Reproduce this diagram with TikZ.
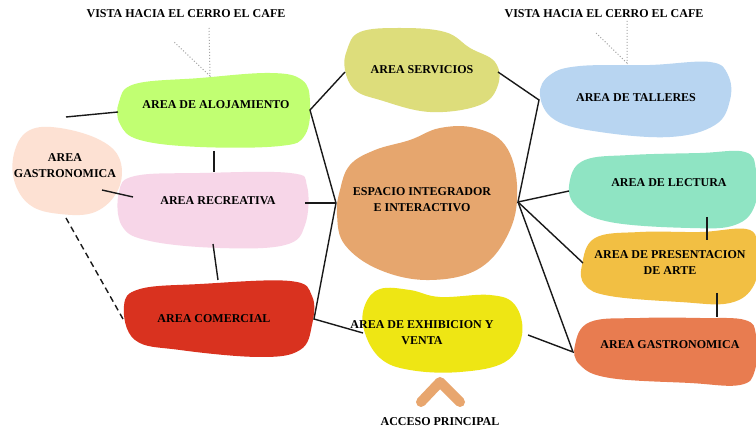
\documentclass[tikz,border=0pt]{standalone}
\usepackage{fontspec}
\setmainfont{Liberation Serif}
\begin{document}
\begin{tikzpicture}[x=1pt,y=-1pt,
  lbl/.style={font=\fontsize{12}{16}\selectfont\bfseries, align=center, inner sep=0pt, text=black},
  conn/.style={draw=black!90, line width=1.4pt},
  viewline/.style={draw=black!35, line width=1pt, dash pattern=on 1pt off 2pt}]
\definecolor{cAloj}{HTML}{C1FF72}
\definecolor{cGastL}{HTML}{FDE1D3}
\definecolor{cRecr}{HTML}{F7D6E8}
\definecolor{cCom}{HTML}{D9321F}
\definecolor{cServ}{HTML}{DDDD7B}
\definecolor{cEsp}{HTML}{E6A66E}
\definecolor{cExh}{HTML}{EEE614}
\definecolor{cTall}{HTML}{B8D5F1}
\definecolor{cLect}{HTML}{8FE4C3}
\definecolor{cPres}{HTML}{F2BF43}
\definecolor{cGastR}{HTML}{E87C50}
\definecolor{cArrow}{HTML}{E8A66E}
\useasboundingbox[fill=white] (0,0) rectangle (756,430);

% blobs
\fill[cAloj] plot[smooth cycle, tension=0.65] coordinates {(119,102) (135,84) (200,78) (270,73) (302,80) (310,102) (305,135) (280,146) (200,147) (140,140) (120,124)};
\fill[cGastL] plot[smooth cycle, tension=0.65] coordinates {(15,150) (30,130) (60,128) (100,140) (120,160) (118,190) (95,212) (60,214) (30,205) (14,180)};
\fill[cRecr] plot[smooth cycle, tension=0.65] coordinates {(119,192) (135,176) (200,173) (290,173) (307,186) (305,225) (285,245) (220,248) (150,241) (122,226)};
\fill[cCom] plot[smooth cycle, tension=0.65] coordinates {(124,306) (140,289) (200,284) (290,281) (312,296) (312,325) (300,350) (260,357) (180,350) (135,340)};
\fill[cServ] plot[smooth cycle, tension=0.65] coordinates {(347,50) (360,32) (400,28) (445,32) (470,48) (495,62) (498,85) (480,105) (430,112) (380,100) (355,90) (345,70)};
\fill[cEsp] plot[smooth cycle, tension=0.65] coordinates {(340,190) (350,165) (375,150) (410,140) (440,128) (475,128) (505,145) (517,185) (510,230) (480,268) (430,280) (380,270) (345,245) (337,215)};
\fill[cExh] plot[smooth cycle, tension=0.65] coordinates {(365,305) (380,289) (410,290) (440,297) (490,295) (515,305) (522,335) (505,362) (460,372) (410,370) (380,358) (364,330)};
\fill[cTall] plot[smooth cycle, tension=0.65] coordinates {(540,95) (550,75) (580,66) (650,65) (710,62) (728,75) (730,100) (715,125) (670,137) (600,132) (555,120)};
\fill[cLect] plot[smooth cycle, tension=0.65] coordinates {(570,180) (585,160) (630,155) (700,153) (745,152) (756,170) (755,205) (735,225) (690,228) (610,222) (575,205)};
\fill[cPres] plot[smooth cycle, tension=0.65] coordinates {(582,265) (595,238) (640,232) (700,232) (750,230) (756,255) (754,285) (730,303) (680,302) (610,296) (585,285)};
\fill[cGastR] plot[smooth cycle, tension=0.65] coordinates {(575,345) (590,322) (640,318) (700,318) (745,320) (756,335) (755,370) (740,385) (690,383) (610,378) (580,365)};

% labels
\node[lbl] (aloj) at (216,105) {AREA DE ALOJAMIENTO};
\node[lbl] (gastL) at (65,166) {AREA\\GASTRONOMICA};
\node[lbl] (recr) at (218,201) {AREA RECREATIVA};
\node[lbl] (com) at (214,319) {AREA COMERCIAL};
\node[lbl] (serv) at (422,70) {AREA SERVICIOS};
\node[lbl] (esp) at (422,200) {ESPACIO INTEGRADOR\\E INTERACTIVO};
\node[lbl] (exh) at (422,333) {AREA DE EXHIBICION Y\\VENTA};
\node[lbl] (tall) at (636,98) {AREA DE TALLERES};
\node[lbl] (lect) at (669,183) {AREA DE LECTURA};
\node[lbl] (pres) at (670,263) {AREA DE PRESENTACION\\DE ARTE};
\node[lbl] (gastR) at (670,345) {AREA GASTRONOMICA};
\node[lbl] (vistaL) at (186,14) {VISTA HACIA EL CERRO EL CAFE};
\node[lbl] (vistaR) at (604,14) {VISTA HACIA EL CERRO EL CAFE};
\node[lbl] (acceso) at (440,422) {ACCESO PRINCIPAL};

% anchor coordinates
\coordinate (alojW) at (118,112);
\coordinate (freeL) at (66,117);
\coordinate (alojS) at (214,151);
\coordinate (recrN) at (214,172);
\coordinate (gastLE) at (102,190);
\coordinate (recrW) at (133,197);
\coordinate (gastLS) at (66,218);
\coordinate (comW) at (123,319);
\coordinate (recrS) at (213,244);
\coordinate (comN) at (218,280);
\coordinate (alojE) at (310,110);
\coordinate (servW) at (345,72);
\coordinate (espW) at (336,203);
\coordinate (recrE) at (305,203);
\coordinate (comE) at (314,319);
\coordinate (exhW) at (363,333);
\coordinate (servE) at (498,72);
\coordinate (tallW) at (539,100);
\coordinate (espE) at (518,202);
\coordinate (lectW) at (569,191);
\coordinate (presW) at (583,263);
\coordinate (gastRW) at (573,352);
\coordinate (exhE) at (528,335);
\coordinate (lectS) at (707,217);
\coordinate (presN) at (707,240);
\coordinate (presS) at (717,293);
\coordinate (gastRN) at (717,317);
\coordinate (viewL) at (210,76);
\coordinate (viewLa) at (209,28);
\coordinate (viewLb) at (173,41);
\coordinate (viewR) at (627,63);
\coordinate (viewRa) at (627,21);
\coordinate (viewRb) at (596,33);

% connectors
\draw[conn] (freeL) -- (alojW);
\draw[conn] (alojS) -- (recrN);
\draw[conn] (gastLE) -- (recrW);
\draw[conn, dash pattern=on 6pt off 4pt] (gastLS) -- (comW);
\draw[conn] (recrS) -- (comN);
\draw[conn] (servW) -- (alojE) -- (espW) -- (comE) -- (exhW);
\draw[conn] (recrE) -- (espW);
\draw[conn] (servE) -- (tallW) -- (espE) -- (lectW);
\draw[conn] (espE) -- (presW);
\draw[conn] (espE) -- (gastRW) -- (exhE);
\draw[conn] (lectS) -- (presN);
\draw[conn] (presS) -- (gastRN);

% view lines
\draw[viewline] (viewLa) -- (viewL) -- (viewLb);
\draw[viewline] (viewRa) -- (viewR) -- (viewRb);

% entrance chevron
\coordinate (chevA) at (421,402);
\coordinate (chevT) at (440,382);
\coordinate (chevB) at (460,402);
\draw[cArrow, line width=10pt, line cap=round, line join=round] (chevA) -- (chevT) -- (chevB);
\end{tikzpicture}
\end{document}
